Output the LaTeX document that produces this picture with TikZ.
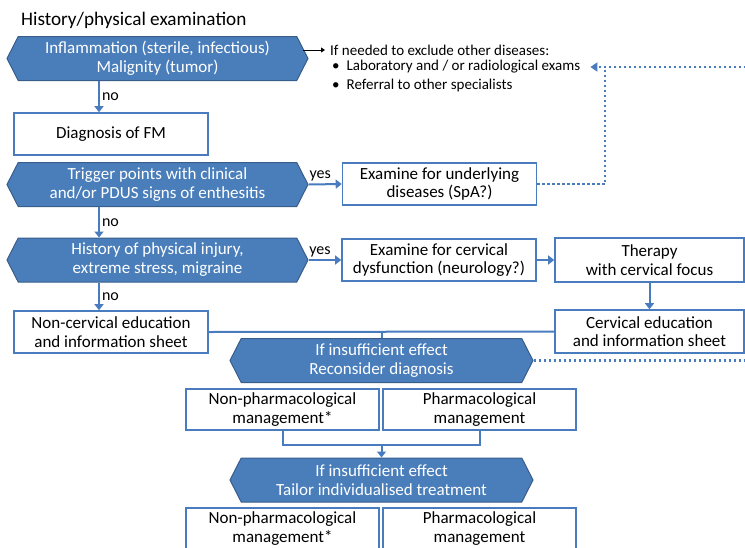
\documentclass[tikz,border=0pt]{standalone}
\usepackage{fontspec}
\setmainfont{Carlito}
\usetikzlibrary{positioning,arrows.meta,shapes.symbols}

\definecolor{hexblue}{RGB}{74,126,187}
\definecolor{hexline}{RGB}{56,93,138}
\definecolor{lineblue}{RGB}{72,124,190}

\begin{document}
\begin{tikzpicture}[
    x=1pt, y=-1pt,
    decision/.style={signal, signal to=west and east, signal pointer angle=126, draw=hexline, fill=hexblue, line width=1pt, text=white, minimum width=301pt, minimum height=44pt, inner sep=0pt, align=center, font=\fontsize{17}{19}\selectfont},
    stepbox/.style={rectangle, draw=lineblue, line width=1.6pt, fill=white, minimum width=194pt, minimum height=42pt, inner sep=0pt, align=center, font=\fontsize{17}{18.5}\selectfont},
    flow/.style={draw=lineblue, line width=2pt, -{Triangle[length=6pt,width=9pt]}},
    link/.style={draw=lineblue, line width=2pt},
    recheck/.style={draw=lineblue, line width=2.2pt, dash pattern=on 2.2pt off 2.8pt},
    answer/.style={font=\fontsize{16}{18}\selectfont, inner sep=2pt},
    note/.style={anchor=west, inner sep=0pt, font=\fontsize{15}{17}\selectfont}
]
    \clip (0,0) rectangle (745,547);
    \coordinate (spine) at (99,0);

    % Exclusion
    \node[anchor=west, inner sep=0pt, font=\fontsize{19.2}{22}\selectfont] (title) at (21,20) {History/physical examination};
    \node[decision] (inflam) at (157.5,58.5) {Inflammation (sterile, infectious)\\Malignity (tumor)};
    \node[note] (note) at (330,50) {If needed to exclude other diseases:};
    \node[note] (labs) at (332,67) {•\hspace{7pt}Laboratory and / or radiological exams};
    \node[note] (referral) at (332,85) {•\hspace{7pt}Referral to other specialists};

    % Diagnosis
    \node[stepbox] (diagfm) at (111,134) {Diagnosis of FM};
    \node[decision] (trigger) at (157.5,184.5) {Trigger points with clinical\\and/or PDUS signs of enthesitis};
    \node[stepbox] (spa) at (439.5,184) {Examine for underlying\\diseases (SpA?)};

    % Cervical
    \node[decision] (injury) at (157.5,260) {History of physical injury,\\extreme stress, migraine};
    \node[stepbox] (cerdys) at (439,260) {Examine for cervical\\dysfunction (neurology?)};
    \node[stepbox, minimum width=189pt, minimum height=44pt] (therapy) at (649.5,260) {Therapy\\with cervical focus};
    \node[stepbox, minimum width=189pt, minimum height=43pt] (ceredu) at (649.5,331.5) {Cervical education\\and information sheet};
    \node[stepbox] (noncer) at (111,332) {Non-cervical education\\and information sheet};

    % Management
    \node[decision, minimum width=303pt] (recons) at (381.5,360.5) {If insufficient effect\\Reconsider diagnosis};
    \node[stepbox, minimum width=193pt, minimum height=41pt] (nonpharm1) at (282.5,409.5) {Non-pharmacological\\management*};
    \node[stepbox, minimum width=193pt, minimum height=41pt] (pharm1) at (479.5,409.5) {Pharmacological\\management};
    \coordinate (join) at (381.5,445);
    \node[decision, minimum width=303pt] (tailor) at (381.5,480) {If insufficient effect\\Tailor individualised treatment};
    \node[stepbox, minimum width=193pt, minimum height=41pt] (nonpharm2) at (282.5,528.5) {Non-pharmacological\\management*};
    \node[stepbox, minimum width=193pt, minimum height=41pt] (pharm2) at (479.5,528.5) {Pharmacological\\management};

    % Connectors
    \draw[-{Triangle[length=4pt,width=5pt]}, line width=1pt] ([xshift=-6pt]inflam.east |- note.west) -- ([xshift=-5pt]note.west);
    \draw[flow] (spine |- inflam.south) -- node[answer, right] {no} (spine |- diagfm.north);
    \draw[flow] (spine |- trigger.south) -- node[answer, right] {no} (spine |- injury.north);
    \draw[flow] (spine |- injury.south) -- node[answer, right] {no} (spine |- noncer.north);
    \draw[flow] (trigger.east) -- node[answer, above, pos=0.35] {yes} (spa.west);
    \draw[flow] (injury.east) -- node[answer, above, pos=0.35] {yes} (cerdys.west);
    \draw[flow] (cerdys.east) -- (therapy.west);
    \draw[flow] (therapy.south) -- (ceredu.north);
    \draw[link] (noncer.east) -- (ceredu.west);
    \draw[link] (recons.north |- noncer.east) -- (recons.north);
    \draw[link] (nonpharm1.south) |- (join) -| (pharm1.south);
    \draw[flow] (join) -- (tailor.north);

    % Re-examination
    \coordinate (fork) at (605,67);
    \coordinate (edge) at (748,67);
    \draw[recheck] (spa.east) -| (fork);
    \draw[recheck, -{Triangle[length=7pt,width=9pt]}] (recons.east) -| (edge) -- ([xshift=10pt]labs.east);
\end{tikzpicture}
\end{document}
